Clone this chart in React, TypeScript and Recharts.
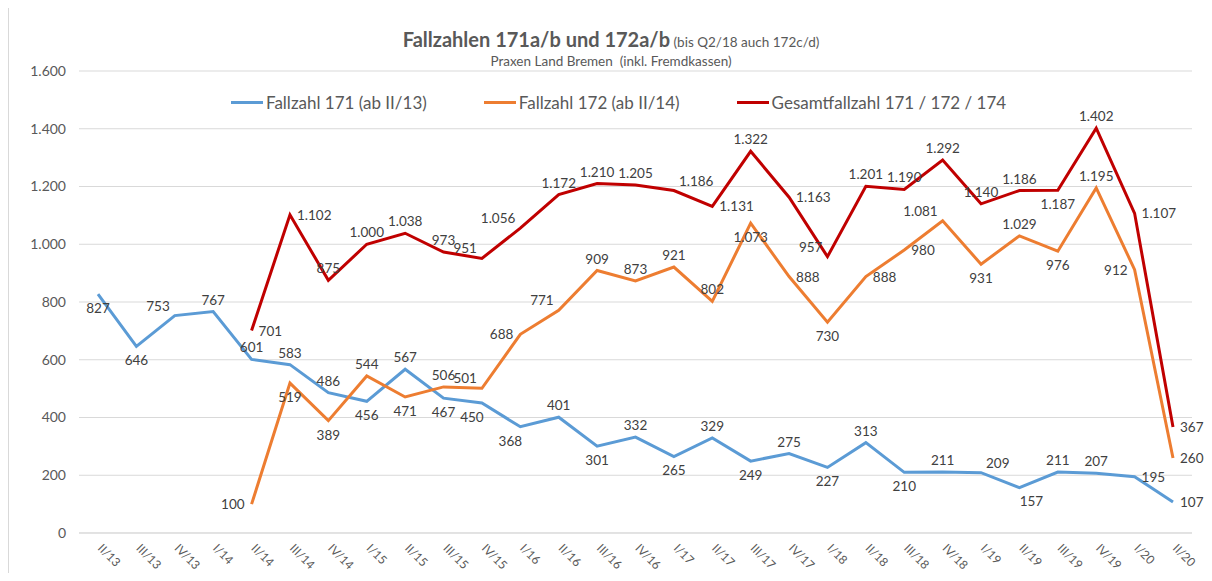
import React from 'react';
import { LineChart, Line, XAxis, YAxis, CartesianGrid, LabelList } from 'recharts';

const quarters = [
  'II/13', 'III/13', 'IV/13', 'I/14', 'II/14', 'III/14', 'IV/14', 'I/15', 'II/15', 'III/15',
  'IV/15', 'I/16', 'II/16', 'III/16', 'IV/16', 'I/17', 'II/17', 'III/17', 'IV/17', 'I/18',
  'II/18', 'III/18', 'IV/18', 'I/19', 'II/19', 'III/19', 'IV/19', 'I/20', 'II/20',
];

const fallzahl171 = [
  827, 646, 753, 767, 601, 583, 486, 456, 567, 467, 450, 368, 401, 301, 332, 265, 329, 249,
  275, 227, 313, 210, 211, 209, 157, 211, 207, 195, 107,
];

const fallzahl172 = [
  null, null, null, null, 100, 519, 389, 544, 471, 506, 501, 688, 771, 909, 873, 921, 802,
  1073, 888, 730, 888, 980, 1081, 931, 1029, 976, 1195, 912, 260,
];

const gesamt = [
  null, null, null, null, 701, 1102, 875, 1000, 1038, 973, 951, 1056, 1172, 1210, 1205, 1186,
  1131, 1322, 1163, 957, 1201, 1190, 1292, 1140, 1186, 1187, 1402, 1107, 367,
];

const yTicks = [0, 200, 400, 600, 800, 1000, 1200, 1400, 1600];

// where each data label sits relative to its point (as Excel placed them)
const pos171 = [
  'b', 'b', 'tl', 't', 't', 't', 't', 'b', 't', 'b', 'bl', 'bl', 't', 'b', 't', 'b', 't', 'b',
  't', 'b', 't', 'b', 't', 'tr', 'br', 't', 't', 'r', 'r',
];
const pos172 = [
  '', '', '', '', 'l', 'b', 'b', 't', 'b', 't', 'tl', 'l', 'tl', 't', 't', 't', 't', 'b', 'r',
  'b', 'r', 'r', 'tl', 'b', 't', 'b', 't', 'l', 'r',
];
const posGesamt = [
  '', '', '', '', 'r', 'r', 't', 't', 't', 't', 'tl', 'tl', 't', 't', 't', 'tr', 'r', 't', 'r',
  'tl', 't', 't', 't', 't', 't', 'b', 't', 'r', 'r',
];

const data = quarters.map((q, i) => ({
  q,
  f171: fallzahl171[i],
  f172: fallzahl172[i],
  ges: gesamt[i],
}));

const FONT = 'Lato, "Liberation Sans", sans-serif';
const TEXT = '#595959';

const fmt = (v: number) => String(v).replace(/\B(?=(\d{3})+(?!\d))/g, '.');

const offsets: Record<string, [number, number, string]> = {
  t: [0, -12, 'middle'],
  b: [0, 14, 'middle'],
  l: [-7, 0, 'end'],
  r: [7, 0, 'start'],
  tl: [-5, -10, 'end'],
  tr: [5, -10, 'start'],
  bl: [-10, 14, 'middle'],
  br: [12, 13, 'middle'],
};

const makeLabel = (positions: string[]) => (props: any) => {
  const { x, y, value, index } = props;
  if (value == null) return null;
  const [dx, dy, anchor] = offsets[positions[index]] || offsets.t;
  return (
    <text
      x={x + dx}
      y={y + dy}
      textAnchor={anchor as any}
      dominantBaseline="central"
      fontSize={13.5}
      fontFamily={FONT}
      fill="#404040"
    >
      {fmt(value)}
    </text>
  );
};

const XTick = (props: any) => {
  const { x, y, payload } = props;
  return (
    <g transform={`translate(${x - 1},${y + 8}) rotate(45)`}>
      <text x={0} y={0} textAnchor="start" fontSize={12} fontFamily={FONT} fill={TEXT}>
        {payload.value}
      </text>
    </g>
  );
};

const legendItems = [
  { label: 'Fallzahl 171 (ab II/13)', color: '#5B9BD5' },
  { label: 'Fallzahl 172 (ab II/14)', color: '#ED7D31' },
  { label: 'Gesamtfallzahl 171 / 172 / 174', color: '#C00000' },
];

const App: React.FC = () => {
  return (
    <div
      style={{
        position: 'relative',
        width: 1196,
        height: 565,
        borderLeft: '1px solid #d9d9d9',
        boxSizing: 'border-box',
        background: '#fff',
      }}
    >
      <div
        style={{
          position: 'absolute',
          top: 20,
          left: 0,
          width: 1204,
          textAlign: 'center',
          fontFamily: FONT,
          color: TEXT,
          lineHeight: 1.15,
        }}
      >
        <span style={{ fontSize: 20, fontWeight: 700 }}>Fallzahlen 171a/b und 172a/b</span>
        <span style={{ fontSize: 13.5 }}> (bis Q2/18 auch 172c/d)</span>
        <div style={{ fontSize: 13.5, marginTop: 3 }}>Praxen Land Bremen&nbsp; (inkl. Fremdkassen)</div>
      </div>
      <div
        style={{
          position: 'absolute',
          top: 84,
          left: 222,
          display: 'flex',
          gap: 57,
          fontFamily: FONT,
          fontSize: 17,
          color: TEXT,
          zIndex: 2,
        }}
      >
        {legendItems.map((it) => (
          <div key={it.label} style={{ display: 'flex', alignItems: 'center' }}>
            <span style={{ width: 32, height: 3, background: it.color, marginRight: 3 }} />
            <span>{it.label}</span>
          </div>
        ))}
      </div>
      <LineChart
        width={1196}
        height={565}
        data={data}
        margin={{ top: 63, right: 13, bottom: 0, left: 0 }}
      >
        <CartesianGrid vertical={false} stroke="#d9d9d9" />
        <XAxis
          dataKey="q"
          interval={0}
          height={40}
          padding={{ left: 19, right: 19 }}
          tickLine={false}
          axisLine={{ stroke: '#d9d9d9' }}
          tick={<XTick />}
        />
        <YAxis
          domain={[0, 1600]}
          ticks={yTicks}
          width={70}
          tickLine={false}
          axisLine={false}
          tickMargin={7}
          tickFormatter={fmt}
          tick={{ fontSize: 14, fill: TEXT, fontFamily: FONT }}
        />
        <Line
          type="linear"
          dataKey="f171"
          stroke="#5B9BD5"
          strokeWidth={3}
          dot={false}
          isAnimationActive={false}
        >
          <LabelList dataKey="f171" content={makeLabel(pos171)} />
        </Line>
        <Line
          type="linear"
          dataKey="f172"
          stroke="#ED7D31"
          strokeWidth={3}
          dot={false}
          isAnimationActive={false}
        >
          <LabelList dataKey="f172" content={makeLabel(pos172)} />
        </Line>
        <Line
          type="linear"
          dataKey="ges"
          stroke="#C00000"
          strokeWidth={3}
          dot={false}
          isAnimationActive={false}
        >
          <LabelList dataKey="ges" content={makeLabel(posGesamt)} />
        </Line>
      </LineChart>
    </div>
  );
};

export default App;
